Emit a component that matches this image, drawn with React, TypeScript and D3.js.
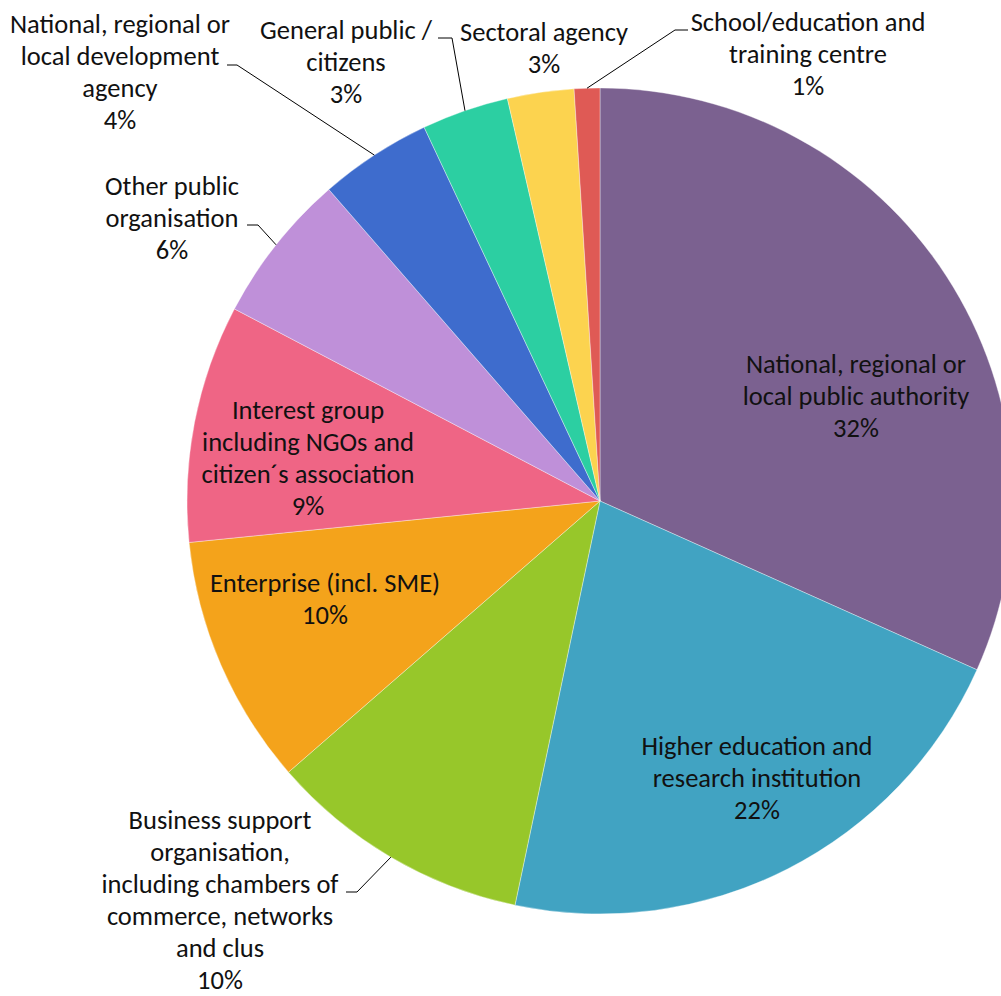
import { useEffect, useRef } from 'react'
import * as d3 from 'd3'

// slice order: clockwise from 12 o'clock
const categories = [
  ['National, regional or', 'local public authority'],
  ['Higher education and', 'research institution'],
  ['Business support', 'organisation,', 'including chambers of', 'commerce, networks', 'and clus'],
  ['Enterprise (incl. SME)'],
  ['Interest group', 'including NGOs and', 'citizen\u00b4s association'],
  ['Other public', 'organisation'],
  ['National, regional or', 'local development', 'agency'],
  ['General public /', 'citizens'],
  ['Sectoral agency'],
  ['School/education and', 'training centre'],
]
const values = [31.7, 21.6, 10.3, 9.8, 9.3, 5.9, 4.4, 3.4, 2.6, 1.0]
const colors = ['#7B6190', '#41A3C2', '#97C72A', '#F4A31B', '#EF6585', '#BF90D9', '#3E6CCD', '#2CCFA2', '#FCD34F', '#DF5A55']

// label layout: text centre x, first baseline y
const labelX = [856, 757, 220, 325, 308, 172, 120, 346, 544, 808]
const labelY = [373, 755, 829, 592, 419, 195, 33, 39, 41, 31]
// leader line: [start x, elbow x, y] or null
const leaders: ([number, number, number] | null)[] = [
  null, null, [346, 357, 892], null, null, [247, 258, 225], [227, 237, 65], [438, 452, 38], null, [688, 675, 30],
]

export default function App() {
  const svgRef = useRef<SVGSVGElement>(null)

  useEffect(() => {
    if (!svgRef.current) return
    const width = 1001
    const height = 996
    const cx = 600
    const cy = 501
    const radius = 413
    const lineH = 32

    const svg = d3.select(svgRef.current)
    svg.selectAll('*').remove()
    svg.attr('width', width).attr('height', height)

    const pie = d3.pie<number>().sort(null).value(d => d)
    const arcs = pie(values)
    const arc = d3.arc<d3.PieArcDatum<number>>().innerRadius(0).outerRadius(radius)

    const g = svg.append('g').attr('transform', `translate(${cx},${cy})`)
    g.selectAll('path')
      .data(arcs)
      .join('path')
      .attr('d', arc)
      .attr('fill', (_, i) => colors[i])
      .attr('stroke', '#fff')
      .attr('stroke-width', 0.6)
      .attr('stroke-opacity', 0.6)

    const total = d3.sum(values)
    const fmt = (v: number) => `${Math.round((v / total) * 100)}%`

    // leader lines
    arcs.forEach((a, i) => {
      const ld = leaders[i]
      if (!ld) return
      const mid = (a.startAngle + a.endAngle) / 2
      const px = cx + radius * Math.sin(mid)
      const py = cy - radius * Math.cos(mid)
      svg.append('path')
        .attr('d', d3.line()([[ld[0], ld[2]], [ld[1], ld[2]], [px, py]]))
        .attr('fill', 'none')
        .attr('stroke', '#000')
        .attr('stroke-width', 1)
    })

    // labels
    arcs.forEach((a, i) => {
      const lines = [...categories[i], fmt(a.data)]
      const t = svg.append('text')
        .attr('text-anchor', 'middle')
        .attr('font-family', 'Carlito, Lato, sans-serif')
        .attr('font-size', 26.5)
        .attr('fill', '#111')
      lines.forEach((ln, j) => {
        t.append('tspan')
          .attr('x', labelX[i])
          .attr('y', labelY[i] + j * lineH)
          .text(ln)
      })
    })
  }, [])

  return (
    <div style={{ position: 'absolute', left: 0, top: 0, width: 1001, height: 996, background: '#fff' }}>
      <svg ref={svgRef} style={{ display: 'block' }}></svg>
    </div>
  )
}
